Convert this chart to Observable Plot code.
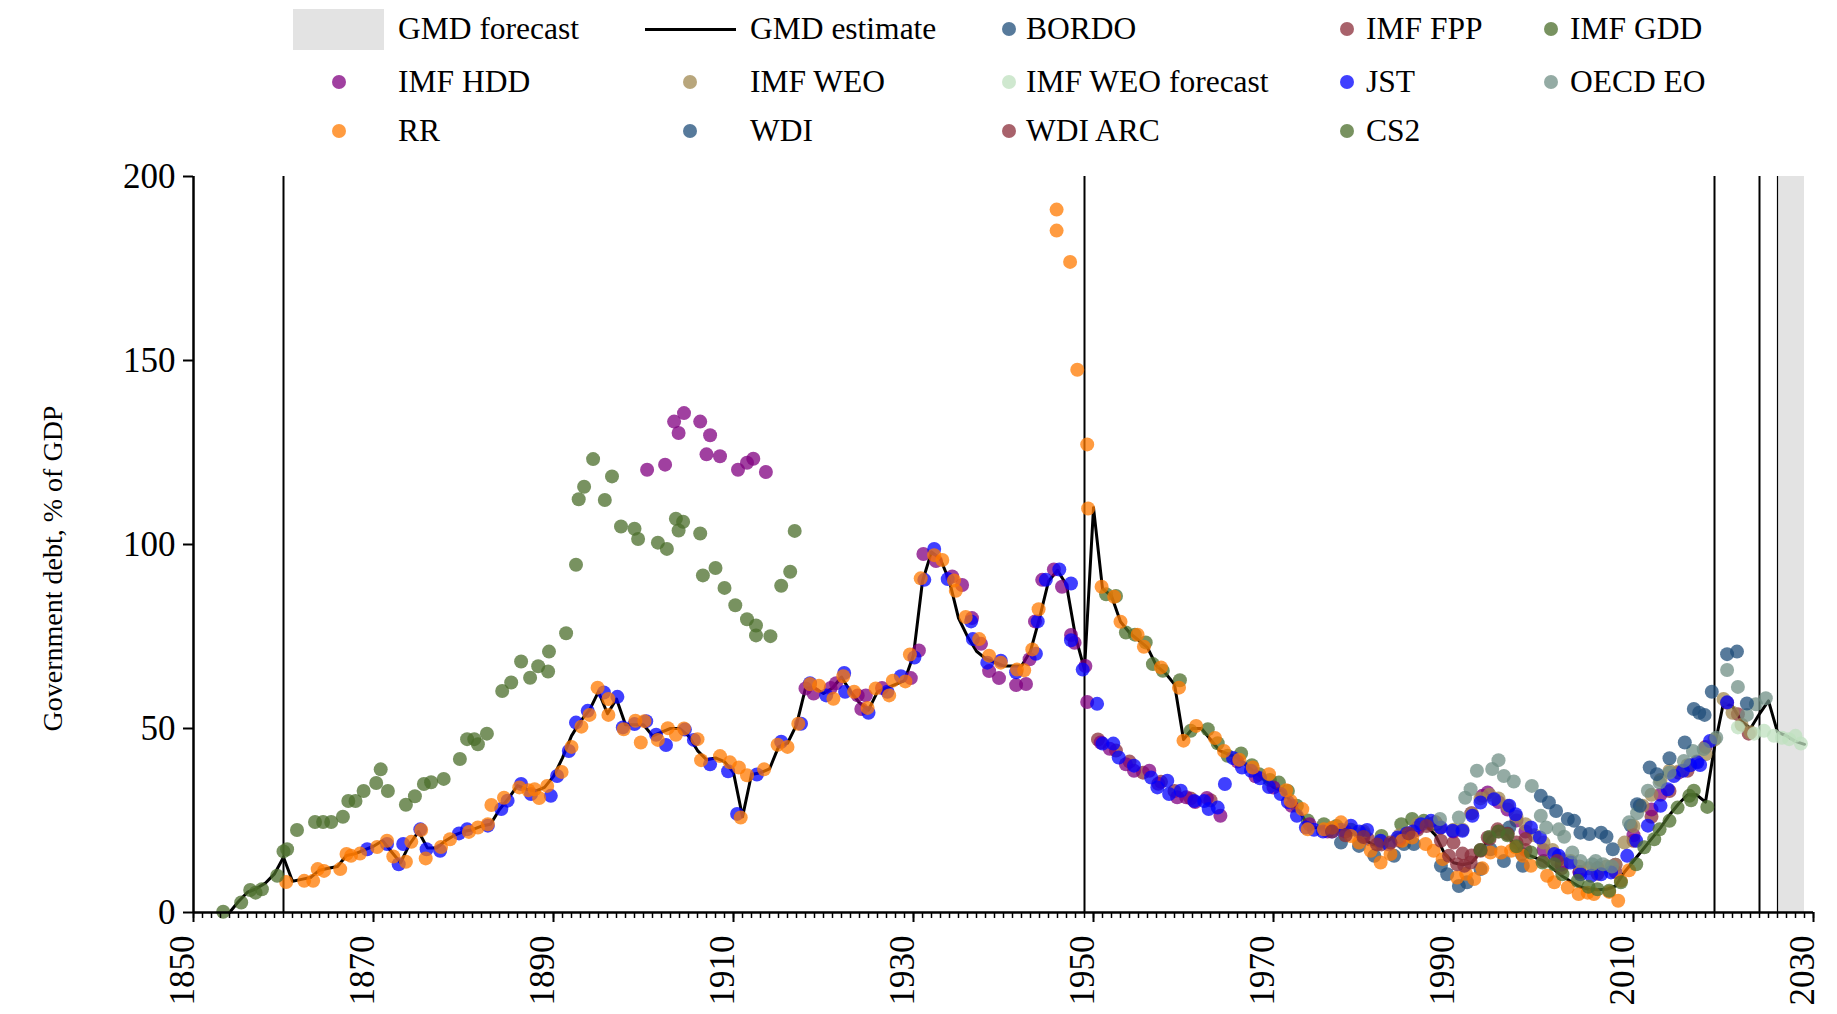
<!DOCTYPE html>
<html><head><meta charset="utf-8">
<script src="https://cdn.jsdelivr.net/npm/d3@7"></script>
<script src="https://cdn.jsdelivr.net/npm/@observablehq/plot@0.6"></script>
<style>
body{margin:0;background:#fff;font-family:"Liberation Serif","Times New Roman",serif;}
#wrap{position:relative;width:1837px;height:1014px;overflow:hidden;}
#legend{position:absolute;left:0;top:0;width:1837px;height:150px;}
.lt{position:absolute;font-size:31.5px;line-height:1;transform:translateY(-50%);white-space:nowrap;color:#000;}
.ld{position:absolute;width:14px;height:14px;border-radius:50%;transform:translate(-50%,-50%);}
#chart{position:absolute;left:0;top:150px;}
</style></head><body>
<div id="wrap"><div id="legend"></div><div id="chart"></div></div>
<script>
// ---------------- DATA ----------------
const seriesNames = ["BORDO","IMF FPP","IMF GDD","IMF HDD","IMF WEO","IMF WEO forecast","JST","OECD EO","RR","WDI","WDI ARC","CS2"];
const seriesColors = ["#1f4e79","#8b2e3a","#4b6e2b","#800080","#a08850","#bfe0bf","#0000ff","#708f85","#ff7a00","#1f4e79","#8b2e3a","#4b6e2b"];

const yTicks = [0, 50, 100, 150, 200];
const xTicks = [1850, 1870, 1890, 1910, 1930, 1950, 1970, 1990, 2010, 2030];
const sourceBreaks = [1860, 1949, 2019, 2024];
const forecastBand = [{start: 2026, end: 2029}];
const yTitle = "Government debt, % of GDP";

// GMD estimate, annual from 1854
const gmdStart = 1854;
const gmdValues = [
 0,3,5.5,6.5,8,10.5,15,8.5,9,9.5,11.5,12,12.5,15.5,16,17,18,19.5,16.5,13.5,18.5,22,17.5,17.5,19.5,21,22,22.5,23.5,24,28,31,34.5,33.5,33,34,37,42,48,52,55,60,54,58,51,51,
 51,48,49,50,50,48,44,41.5,42,41,38,26,37.5,38,39,45,46,51,61,61,59.5,61,64,60,57,55,60,61,62,63,70,90,98,96,90,80,75,71,69,68,67,67,67,71,80,90,93,89,75,66,
 110,88,86,79,76,74,72,67,65,62,47,50,50,47,44,43,42,40,38,36,34,33,30,27,23,23,23,23,22.5,21.5,20,18.5,18,20,21.5,22,23,23.5,21,16,13.5,13,13.5,16.5,20.5,22.5,21,17.5,16,15,
 14,12,10,8.5,7,6.3,6.2,6.3,7.2,11,14,17,20,23,26.5,29.5,32,32,30,45,57,56,52,50,54,57.5,49,48,46.5,45.7
];

const bordo = [[1977.5,19],[1979.5,18.1],[1981.2,15.4],[1983.4,15.4],[1984.5,18.6],[1985.6,18.6],[1988.6,12.7],[1989.3,10.4],[1990.6,7.2],[1991.5,8.2],[1993,11.8],[1994.1,17.2],[1995.6,14],[1997.6,15.9],[1997.7,12.7],[2007.7,17.2],[2009.7,23.6],[2010.4,29.4]];
const imfFpp = [[1950.5,47],[1952.5,44],[1954,41],[1955.5,38],[1957.5,35.5],[1959,33],[1960.8,31],[1963,30.5],[1980.5,20],[1982,18.5],[1984,19.5],[1986,22.5],[1987.5,24],[1988.5,23],[1990,19],[1991,16],[1992,15.5],[1993,17],[1994,20],[1995,22],[1996,21.5],[1997,19],[1998,17],[2000,14],[2002,12],[2004,11],[2006,10.5],[2008,11],[2010,19.5],[2012,26],[2014,33],[2016,38.5],[2018,45],[2020.4,57],[2021.6,53.9],[2022.8,48.6]];
const imfGdd = [[1951.4,86.5],[1952.5,86],[1953.6,76.1],[1954.6,75.5],[1955.8,73.4],[1956.6,67.5],[1957.7,65.7],[1959.6,63.1],[1960.8,49.4],[1962.7,49.8],[1963.8,46],[1964.9,42.6],[1966.4,43.2],[1967.6,40],[1968.4,37.6],[1969.6,36],[1970.6,35.3],[1971.6,33],[1972.6,29],[1973.8,25],[1975.6,24],[1977,23.5],[1978.6,22.5],[1980,21.5],[1982,20.8],[1984.2,24],[1985.4,25.4],[1986.7,24.9],[1988.1,24]];
const imfHdd = [[1900.4,120.3],[1902.4,121.7],[1903.4,133.4],[1903.9,130.3],[1904.5,135.7],[1906.3,133.4],[1907,124.5],[1907.4,129.7],[1908.5,124],[1910.5,120.3],[1911.5,122.2],[1912.2,123.3],[1913.6,119.7],
 [1918,60.9],[1918.9,59.5],[1920.8,61],[1921.4,62.3],[1923.8,59],[1924.2,55.3],[1924.7,59],[1926.5,61],[1929.7,63.7],[1930.6,71.2],[1931.1,97.4],[1932.5,95.5],[1934.3,91.3],[1935.4,89],[1936.5,80],[1937.5,73],[1938.4,65.6],[1939.5,63.7],[1941.4,61.8],[1942.5,62.1],[1942.9,68.8],[1943.5,79.1],[1944.3,90.4],[1945.6,93.2],[1946.5,88.5],[1947.5,75.4],[1947.9,73.3],[1949.1,67],[1949.3,57.2],
 [1950.8,46.2],[1951.8,44.5],[1953.6,40.3],[1954.5,38.5],[1956.2,38.5],[1957.2,35],[1959.3,31.3],[1960.3,31.3],[1961.3,30],[1962.6,31.1],[1964.1,26.3],
 [1966,41],[1968,37],[1970,34],[1972,29],[1974,24],[1976,22],[1978,22],[1980,21],[1982,19],[1984,20],[1986,23],[1988,24.5],[1990,22],[1992,27],[1993.2,31.7],[1993.8,32.6],[1995,30],[1996,28],[1997,25],[1998,22],[2000,17],[2002,13],[2004,11],[2006,12],[2008,13],[2010,21],[2012,28],[2013,32],[2015,38]];
const imfWeo = [[1980,22],[1982,19],[1984,21],[1986,24],[1988,24.5],[1990,22.5],[1991,22.5],[1992,27],[1993,31],[1994,32],[1995,31],[1996,29],[1997,26],[1998,24],[1999,21],[2000,19],[2001,17],[2002,14.5],[2003,14],[2004,12.5],[2005,12],[2006,12],[2007,12.5],[2008,13],[2009,19],[2010,23.5],[2011,29],[2012,32],[2013,36],[2014,38.5],[2015,38.3],[2016,40],[2017,41],[2018,43],[2019,47],[2020,58],[2021,54.3],[2022,51],[2023,49]];
const imfWeoForecast = [[2021.6,50.3],[2023.4,48.6],[2024.5,49.4],[2025.6,48],[2026.5,47.5],[2027.3,47.1],[2028,48],[2028.6,45.9]];
const jst = [[1869.3,17.2],[1871.5,18.6],[1872.8,13.1],[1873.3,18.6],[1875.2,22.6],[1875.9,17.2],[1877.4,16.8],[1879.5,21.5],[1880.4,22.6],[1882.7,23.6],[1884.2,28.1],[1884.9,30.4],[1886.4,34.9],[1887.5,32.2],[1889.7,31.7],[1890.4,37.1],[1891.7,43.9],[1892.5,51.6],[1893.8,54.8],[1895.6,59.8],[1897.1,58.6],[1897.7,50.3],[1899,51.2],
 [1900.3,52],[1901.4,48.3],[1902.5,45.5],[1904.6,49.7],[1905.6,46.9],[1907.4,40.3],[1909.4,38.4],[1910.4,26.8],[1912.6,37.5],[1915.3,46.4],[1917.5,51.3],[1918.5,62.3],[1920.3,59],[1922.3,65.1],[1922.4,60],[1925,54.3],[1927.1,60],[1928.6,64.2],[1930.1,69.3],[1931.2,90.4],[1932.3,98.8],[1933.8,90.6],[1936.4,79.1],[1936.6,74.3],[1938.2,67.9],[1939.7,68.4],[1941.4,65.3],[1943.6,70.3],[1943.8,79.1],[1944.7,90.4],[1946.2,93.2],[1947.5,89.4],[1947.5,74],[1948.8,66],
 [1950.4,56.7],[1951,45.9],[1952.2,45.9],[1952.8,42.1],[1954.5,39.9],[1956.4,36.7],[1957.1,34],[1958.2,35.8],[1958.4,32.2],[1959.7,33.1],[1961.2,30.3],[1962.3,30.3],[1962.8,28.1],[1963.8,28.5],[1964.6,34.9],
 [1965.5,42],[1966.5,39.4],[1967.5,38.5],[1968.5,36.5],[1969.5,34.1],[1970.8,32.2],[1971.6,30],[1972.6,26.3],[1973.6,23.1],[1974.5,22.5],[1975.5,22],[1976.5,22],[1977.5,22.5],[1978.6,23.6],[1979.5,22],[1980.4,22.4],[1981.9,19.5],[1982.8,18.5],[1983.8,20.4],[1984.8,21.5],[1985.5,22],[1986.4,24],[1987.5,24.9],[1988.6,23.1],[1989.9,22.2],[1991,22.2],[1992.1,26.3],[1993,29.9],[1994.5,30.8],
 [1996.2,29],[1996.9,26.7],[1998.6,23.1],[1999.6,20.4],[2001.2,15.9],[2001.7,15.4],[2003,13.6],[2004.1,10.4],[2005.3,10],[2006.4,10.4],[2007.5,10.9],[2009.3,15.4],[2010.3,19.5],[2011.6,23.6],[2013,29],[2013.8,33.5],[2014.5,37.1],[2015.5,38.5],[2016.3,40],[2017.1,40.8],[2017.4,40.1],[2018.5,46.6],[2020.4,57.1]];
const oecdEo = [[1988.5,25.4],[1990.6,25.8],[1991.3,31.2],[1991.9,33.5],[1992.6,38.5],[1994.3,39],[1995,41.4],[1995.6,37.1],[1996.7,35.6],[1998.7,34.4],[1999.7,26.3],[2000.3,23.1],[2001.7,22.6],[2002.3,20.6],[2003.2,16.3],[2004.1,14],[2005.4,13.1],[2005.8,14],[2006.6,13.1],[2007.6,12.5],[2009.5,24.5],[2010.4,27],[2011.6,33.1],[2012.9,35.3],[2014,38],[2015.6,41.2],[2016.6,43.9],[2017.8,44.4],[2019.2,47.5],[2020.4,65.9],[2021.6,61.3],[2022.6,53.7],[2023.6,56.6],[2024.7,58.2]];
const rr = [[1860.3,8.3],[1862.3,8.6],[1863.3,8.6],[1863.8,11.8],[1864.5,11.3],[1866.3,11.8],[1867,15.9],[1867.5,15.4],[1868.5,16],[1870.4,17.8],[1871.5,19.5],[1872.2,15.2],[1873.6,13.8],[1874.2,19.2],[1875.3,22.4],[1875.8,14.7],[1877.5,17.8],[1878.5,19.9],[1880.6,21.9],[1881.6,23.1],[1882.7,24],[1883.1,29.2],[1884.5,31.2],[1886.2,34],[1887.2,33.2],[1887.9,33.5],[1888.4,31.1],[1889.3,34.4],[1890.9,38.2],[1892,45],[1893.1,50.5],[1894,53.7],[1894.9,61.1],[1896.1,58],[1896.1,53.7],[1897.8,49.8],[1899.1,52.1],[1899.7,46.2],
 [1900.1,52],[1901.6,46.9],[1902.7,50.1],[1903.6,48.3],[1904.5,50],[1906,47.1],[1906.4,41.4],[1908.5,42.5],[1909.6,40.8],[1910.6,39.4],[1910.8,25.8],[1911.5,37.3],[1913.4,38.9],[1914.9,45.6],[1916,45],[1917.2,51.3],[1918.5,62.1],[1919.5,61.6],[1921.1,58.1],[1922.2,64.2],[1923.4,60],[1924.9,55.6],[1925.8,60.9],[1927.3,59],[1927.7,63],[1929.1,62.8],[1929.6,70.1],[1930.8,90.8],[1932.3,97.1],[1933.2,95.8],[1934.5,90.2],[1934.7,87.4],[1935.8,80.3],[1937.3,74.3],[1938.4,69.8],[1939.7,67.9],[1941.5,66],[1942.3,65.8],[1943.2,71.5],[1943.9,82.4],
 [1945.9,191],[1945.9,185.3],[1947.4,176.8],[1948.2,147.5],[1949.3,127.2],[1949.4,109.8],
 [1950.9,88.5],[1952.3,85.8],[1953,79],[1954.9,75.5],[1955.6,72.2],[1957.5,66.6],[1959.5,61.1],[1960,46.7],[1961.4,50.7],[1963.5,47.4],[1964.5,43.9],[1966.2,41.5],[1967.7,39.4],[1969.5,37.6],[1971.4,33.2],[1971.9,30.3],[1973.2,28.1],[1973.8,22.6],[1975.6,22.6],[1976.5,23],[1977.5,24.5],[1978.6,20.8],[1979.5,19],[1980.8,16.8],[1981.9,13.6],[1983,15.9],[1984.3,19.5],[1985.4,20.4],[1986.9,18.6],[1987.8,16.8],[1988.8,14.5],[1990.4,9.5],[1991.4,10.5],[1992.3,9.1],[1993.2,12],[1994.1,16.3],[1995.3,16.3],[1996.4,16.8],[1996.9,17.7],[1997.7,15.4],[1998.6,12.7],[2000.4,10],[2001.2,8.2],[2002.7,6.8],[2003.9,5],[2004.9,5.4],[2005.6,5],[2007.3,5.6],[2008.3,3.2],[2008.6,8.6],[2009.5,11.5]];
const wdi = [[1996.2,23.1],[1999.7,31.7],[2000.6,29.9],[2001.4,27.6],[2002.7,25.4],[2003.4,24.9],[2004.1,21.7],[2005.1,21.3],[2006.4,21.7],[2007,20.6],[2010.7,29],[2011.8,39.4],[2012.6,37.6],[2014,41.9],[2015.7,46.2],[2016.7,55.3],[2017.3,54.3],[2017.9,53.7],[2018.7,60],[2020.4,70.2],[2021.5,70.9],[2022.6,56.8]];
const wdiArc = [[1976.5,22],[1978,21],[1980,20.5],[1981.5,18.5],[1983,19],[1985,21.5],[1987,23.5],[1988.6,19.5],[1989.5,15.4],[1990.4,13.1],[1991.2,12.7],[1991.9,13.6],[1993,16.8],[1993.8,20.4],[1994.9,22.6],[1996,21.3],[1998,20],[2001.5,14]];
const cs2 = [[1853.3,0.2],[1855.3,2.7],[1856.3,6.1],[1856.9,5.4],[1857.6,6.3],[1859.3,10],[1860,16.6],[1860.4,17.2],[1861.5,22.4],[1863.5,24.6],[1864.4,24.6],[1865.3,24.6],[1866.6,26],[1867.2,30.3],[1868,30.3],[1868.9,33],[1870.3,35.2],[1870.8,38.9],[1871.6,33],[1873.6,29.3],[1874.6,31.6],[1875.6,34.9],[1876.4,35.4],[1877.8,36.3],[1879.6,41.7],[1880.4,47.1],[1881.2,47.1],[1881.6,45.7],[1882.6,48.6],[1884.3,60.2],[1885.3,62.5],[1886.4,68.2],[1887.4,63.8],[1888.3,66.9],[1889.4,65.5],[1889.5,70.9],[1891.4,75.9],[1892.5,94.5],[1892.8,112.3],[1893.4,115.7],[1894.4,123.2],[1895.7,112.1],[1896.5,118.5],[1897.5,104.9],[1899,104.3],[1899.4,101.5],[1901.6,100.5],[1902.6,98.8],[1903.6,107],[1904.4,106.2],[1903.9,103.8],[1906.3,103],[1906.6,91.6],[1908,93.6],[1909,88.2],[1910.2,83.5],[1911.5,79.7],[1912.5,78],[1912.5,75.3],[1914.1,75.1],[1915.3,88.8],[1916.3,92.6],[1916.8,103.7],
 [1993,17],[1994,20.5],[1995,22],[1996,21],[1997,18],[1998.6,16.3],[1999.9,13.6],[2001.2,13.1],[2002.1,10.4],[2003.8,8.6],[2005,7],[2006,6.3],[2007.3,5.9],[2008.6,8.2],[2010.3,13.1],[2011.2,17.7],[2012.3,19.9],[2012.9,22.6],[2014,24.9],[2014.9,28.5],[2016.2,31.7],[2016.4,30.5],[2016.7,33.1],[2018.2,28.7]];

const seriesData = [bordo, imfFpp, imfGdd, imfHdd, imfWeo, imfWeoForecast, jst, oecdEo, rr, wdi, wdiArc, cs2];

// ---------------- TABLES ----------------
const gmd = gmdValues.map((v, i) => ({year: gmdStart + i, value: v}));
const dots = seriesNames.flatMap((s, i) => seriesData[i].map(([year, value]) => ({series: s, year, value})));
const minorTicks = d3.range(1850, 2031, 1);

// ---------------- LEGEND ----------------
const legendLayout = [
  {name: "GMD forecast", kind: "rect", key: 293, keyW: 91, text: 398, y: 29},
  {name: "GMD estimate", kind: "line", key: 645, keyW: 91, text: 750, y: 29},
  {name: "BORDO", key: 1009, text: 1026, y: 29},
  {name: "IMF FPP", key: 1347, text: 1366, y: 29},
  {name: "IMF GDD", key: 1551, text: 1570, y: 29},
  {name: "IMF HDD", key: 339, text: 398, y: 82},
  {name: "IMF WEO", key: 690, text: 750, y: 82},
  {name: "IMF WEO forecast", key: 1009, text: 1026, y: 82},
  {name: "JST", key: 1347, text: 1366, y: 82},
  {name: "OECD EO", key: 1551, text: 1570, y: 82},
  {name: "RR", key: 339, text: 398, y: 131},
  {name: "WDI", key: 690, text: 750, y: 131},
  {name: "WDI ARC", key: 1009, text: 1026, y: 131},
  {name: "CS2", key: 1347, text: 1366, y: 131}
];
const legend = document.getElementById("legend");
for (const it of legendLayout) {
  if (it.kind === "rect") {
    const r = document.createElement("div");
    r.style.cssText = `position:absolute;left:${it.key}px;top:9px;width:${it.keyW}px;height:41px;background:#e3e3e3;`;
    legend.appendChild(r);
  } else if (it.kind === "line") {
    const l = document.createElement("div");
    l.style.cssText = `position:absolute;left:${it.key}px;top:${it.y - 1.5}px;width:${it.keyW}px;height:3px;background:#000;`;
    legend.appendChild(l);
  } else {
    const d = document.createElement("div");
    d.className = "ld";
    d.style.left = it.key + "px";
    d.style.top = it.y + "px";
    d.style.background = seriesColors[seriesNames.indexOf(it.name)];
    d.style.opacity = 0.75;
    legend.appendChild(d);
  }
  const t = document.createElement("div");
  t.className = "lt";
  t.style.left = it.text + "px";
  t.style.top = it.y + "px";
  t.textContent = it.name;
  legend.appendChild(t);
}

// ---------------- CHART ----------------
const chart = Plot.plot({
  width: 1837,
  height: 864,
  marginLeft: 193,
  marginRight: 24,
  marginTop: 26,
  marginBottom: 102,
  x: {domain: [1850, 2030]},
  y: {domain: [0, 200]},
  color: {domain: seriesNames, range: seriesColors},
  style: {fontFamily: "Liberation Serif, Times New Roman, serif", background: "white", color: "black", overflow: "visible"},
  marks: [
    Plot.rect(forecastBand, {x1: "start", x2: "end", fill: "#e3e3e3"}),
    Plot.ruleX(sourceBreaks, {stroke: "black", strokeWidth: 2}),
    Plot.ruleX(forecastBand, {x: "start", stroke: "black", strokeWidth: 1.2}),
    Plot.line(gmd, {x: "year", y: "value", stroke: "black", strokeWidth: 3}),
    Plot.dot(dots, {x: "year", y: "value", fill: "series", r: 7, fillOpacity: 0.75}),
    Plot.ruleY([0], {stroke: "black", strokeWidth: 2.5}),
    Plot.ruleX([1850], {stroke: "black", strokeWidth: 2.5}),
    Plot.axisY(yTicks, {tickSize: 10, tickPadding: 8, fontSize: 35, label: null, strokeWidth: 2}),
    Plot.axisX(minorTicks, {tickSize: 6, tickFormat: () => "", label: null, strokeWidth: 1.5}),
    Plot.axisX(xTicks, {tickSize: 10, tickFormat: () => "", label: null, strokeWidth: 2}),
    Plot.text(xTicks, {x: d => d, text: d => String(d), frameAnchor: "bottom", dy: 23, rotate: -90, textAnchor: "end", fontSize: 35, ariaLabel: "x-labels"}),
    Plot.text([yTitle], {frameAnchor: "left", dx: -140, dy: 24, rotate: -90, textAnchor: "middle", fontSize: 28})
  ]
});
d3.select(chart).selectAll('g[aria-label="x-labels"] text').style("letter-spacing", "2px");
document.getElementById("chart").appendChild(chart);
</script>
</body></html>
